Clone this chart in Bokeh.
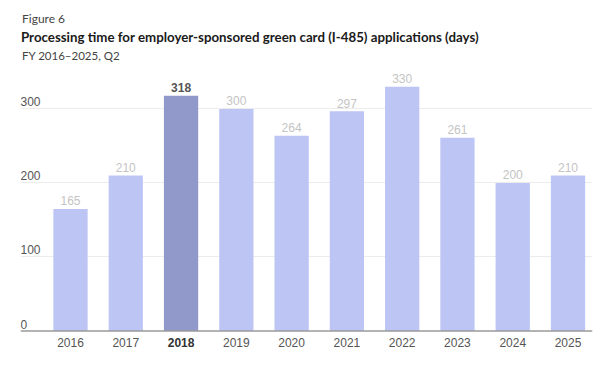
from bokeh.plotting import figure
from bokeh.models import (ColumnDataSource, Range1d, LabelSet, Label, Span, Grid, FixedTicker)
from bokeh.core.properties import value
from bokeh.embed import file_html
from bokeh.resources import INLINE

# ---- data ----
years = ["2016", "2017", "2018", "2019", "2020", "2021", "2022", "2023", "2024", "2025"]
days = [165, 210, 318, 300, 264, 297, 330, 261, 200, 210]
highlight_year = "2018"
y_ticks = [0, 100, 200, 300]

fig_title = "Processing time for employer-sponsored green card (I-485) applications (days)"
fig_kicker = "Figure 6"
fig_subtitle = "FY 2016\u20132025, Q2"

BAR = "#bdc5f5"
BAR_HI = "#9199cb"
VAL = "#c4c4c4"
VAL_HI = "#555555"
TXT = "#555555"
HEAD_FONT = "Lato"
FONT = "Liberation Sans"

idx = list(range(len(years)))
is_hi = [y == highlight_year for y in years]
src = ColumnDataSource(dict(
    x=idx,
    year=years,
    days=days,
    label=[str(d) for d in days],
    color=[BAR_HI if h else BAR for h in is_hi],
    vcolor=[VAL_HI if h else VAL for h in is_hi],
    style=["bold" if h else "normal" for h in is_hi],
    ycolor=["#333333" if h else TXT for h in is_hi],
    zero=[0] * len(years),
))

# frame spans x 20..592 and full canvas height; 0 at y=330.5, 0.74 px per day
p = figure(width=600, height=366, output_backend="svg", toolbar_location=None,
           x_axis_type=None, y_axis_type=None,
           x_range=Range1d(-0.9045, 9.443), y_range=Range1d(-47.97, 446.6),
           min_border_left=20, min_border_right=8, min_border_top=0, min_border_bottom=0)
p.outline_line_color = None
p.background_fill_color = "white"
p.border_fill_color = "white"
p.title.visible = False

grid = Grid(dimension=1, ticker=FixedTicker(ticks=y_ticks[1:]),
            grid_line_color="#ececec", grid_line_width=1)
p.add_layout(grid)

p.vbar(x="x", top="days", bottom=0, width=0.62, source=src, fill_color="color", line_color=None)

p.add_layout(Span(location=0, dimension="width", line_color="#9a9a9a", line_width=1.5))

# value labels
p.add_layout(LabelSet(x="x", y="days", text="label", source=src, y_offset=3.5,
                      text_align="center", text_baseline="alphabetic",
                      text_color="vcolor", text_font_style="style",
                      text_font=value(FONT), text_font_size=value("12px")))

# year labels
p.add_layout(LabelSet(x="x", y="zero", text="year", source=src, y_offset=-7,
                      text_align="center", text_baseline="top",
                      text_color="ycolor", text_font_style="style",
                      text_font=value(FONT), text_font_size=value("12px")))

# y tick labels
tick_src = ColumnDataSource(dict(y=y_ticks, t=[str(v) for v in y_ticks], x=[0] * len(y_ticks)))
p.add_layout(LabelSet(x="x", y="y", text="t", source=tick_src, x_units="screen",
                      y_offset=2.5, text_align="left", text_baseline="alphabetic",
                      text_color=TXT, text_font=value(FONT), text_font_size=value("12px")))

# header
p.add_layout(Label(x=1.5, y=348.5, x_units="screen", y_units="screen", text=fig_kicker,
                   text_baseline="middle", text_font=HEAD_FONT, text_font_size="12px",
                   text_color="#444444"))
p.add_layout(Label(x=0.5, y=330, x_units="screen", y_units="screen", text=fig_title,
                   text_baseline="middle", text_font=HEAD_FONT, text_font_size="13.3px",
                   text_font_style="bold", text_color="#1a1a1a"))
p.add_layout(Label(x=1.5, y=311, x_units="screen", y_units="screen", text=fig_subtitle,
                   text_baseline="middle", text_font=HEAD_FONT, text_font_size="11.5px",
                   text_color="#444444"))

open("out.html", "w").write(file_html(p, INLINE))
